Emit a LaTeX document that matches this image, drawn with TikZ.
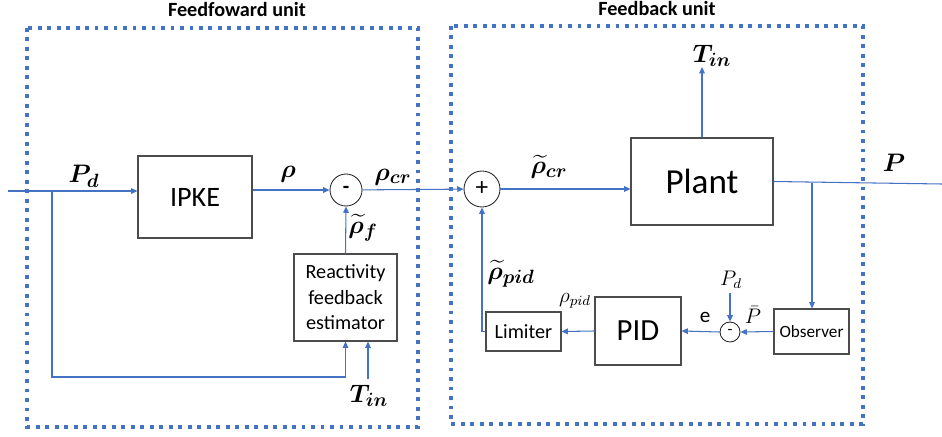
\documentclass[tikz,border=0pt]{standalone}
\usepackage{fontspec}
\setmainfont{Carlito}
\usepackage{amsmath,bm}
\usetikzlibrary{arrows.meta,positioning,calc}
\definecolor{sigblue}{RGB}{68,114,196}
\definecolor{unitblue}{RGB}{68,114,196}

\begin{document}
\begin{tikzpicture}[x=0.02cm,y=-0.02cm,
    >={Triangle[length=3.6pt,width=3.2pt]},
    blk/.style={draw=black!70, line width=0.6pt, inner sep=0pt, align=center},
    sumc/.style={circle, draw=black!85, line width=0.5pt, inner sep=0pt},
    sig/.style={draw=sigblue, line width=0.6pt},
    unit/.style={draw=unitblue, line width=2.3pt, dash pattern=on 2.2pt off 3.2pt},
    lbl/.style={font=\fontsize{15}{17}\selectfont, inner sep=1pt},
    slbl/.style={font=\fontsize{12}{14}\selectfont, inner sep=1pt},
    title/.style={font=\fontsize{11.5}{13}\selectfont\bfseries}]
    \useasboundingbox (0,0) rectangle (942,436);

    % units
    \draw[unit] (27,28) rectangle (418,427);
    \draw[unit] (451,26) rectangle (863,424);
    \node[title] (fftitle) at (237,9) {Feedfoward unit};
    \node[title] (fbtitle) at (657,8) {Feedback unit};

    % blocks
    \draw (195,197) node[blk, minimum width=2.28cm, minimum height=1.64cm, font=\fontsize{16}{18}\selectfont] (ipke) {IPKE};
    \draw (346,190) node[sumc, minimum size=0.64cm, font=\bfseries\large] (minus) {-};
    \draw (345.5,297.5) node[blk, minimum width=2.06cm, minimum height=1.74cm, font=\fontsize{11.5}{14.5}\selectfont] (reac) {Reactivity\\feedback\\estimator};
    \draw (482,189) node[sumc, minimum size=0.72cm, font=\Large] (plus) {+};
    \draw (702,181.5) node[blk, minimum width=2.84cm, minimum height=1.74cm, font=\fontsize{20}{22}\selectfont] (plant) {Plant};
    \draw (811.5,331.5) node[blk, minimum width=1.5cm, minimum height=0.9cm, font=\fontsize{9.8}{11}\selectfont] (obs) {Observer};
    \draw (730,332) node[sumc, minimum size=0.4cm, font=\small] (smin) {-};
    \draw (638,331) node[blk, minimum width=1.72cm, minimum height=1.36cm, font=\fontsize{17.5}{19}\selectfont] (pid) {PID};
    \draw (523.5,331.5) node[blk, minimum width=1.5cm, minimum height=0.78cm, font=\fontsize{11.5}{13}\selectfont] (lim) {Limiter};

    % free ends
    \coordinate (pin) at (8,191);
    \coordinate (br1) at (52,191);
    \coordinate (bot) at (52,377);
    \coordinate (tinlow) at (368,379);
    \coordinate (tinup) at (702,67);
    \coordinate (pout) at (942,184);
    \coordinate (br2) at (812,182.5);
    \coordinate (pdsrc) at (730,293);

    % connectors
    \draw[sig,->] (pin) -- (ipke.west |- pin);
    \draw[sig,->] (ipke.east |- minus) -- (minus);
    \draw[sig,->] (br1) |- (reac.south |- bot) -- (reac.south);
    \draw[sig,->] (tinlow) -- (tinlow |- reac.south);
    \draw[sig,->] (reac.north) -- (minus.south);
    \draw[sig,->] (minus) -- (plus);
    \draw[sig,->] (plus) -- (plant.west |- plus);
    \draw[sig,->] (plant.north) -- (tinup);
    \draw[sig] (plant.east) -- (pout);
    \draw[sig,->] (br2) -- (br2 |- obs.north);
    \draw[sig,->] (obs.west) -- (smin.east);
    \draw[sig,->] (pdsrc) -- (smin.north);
    \draw[sig,->] (smin.west) -- (pid.east);
    \draw[sig,->] (pid.west) -- (lim.east);
    \draw[sig,->] (lim.west) -| (plus.south);

    % labels
    \node[lbl] (lpd) at (84,176) {$\bm{P}_{\bm{d}}$};
    \node[lbl] (lrho) at (288,174) {$\bm{\rho}$};
    \node[lbl] (lrhocr) at (393,177) {$\bm{\rho}_{\bm{cr}}$};
    \node[lbl] (lrhof) at (363,228) {$\widetilde{\bm{\rho}}_{\bm{f}}$};
    \node[lbl] (ltinlow) at (369,396) {$\bm{T}_{\bm{in}}$};
    \node[lbl] (lrhocrt) at (549,167) {$\widetilde{\bm{\rho}}_{\bm{cr}}$};
    \node[lbl] (ltinup) at (712,56) {$\bm{T}_{\bm{in}}$};
    \node[lbl] (lp) at (894,163) {$\bm{P}$};
    \node[lbl] (lrhopid) at (511,274) {$\widetilde{\bm{\rho}}_{\bm{pid}}$};
    \node[slbl] (lrpid) at (575,301) {$\rho_{pid}$};
    \node[slbl] (lpds) at (731,280) {$P_d$};
    \node[slbl] (lpbar) at (753,315) {$\bar{P}$};
    \node[slbl] (le) at (705,317) {e};
\end{tikzpicture}
\end{document}
